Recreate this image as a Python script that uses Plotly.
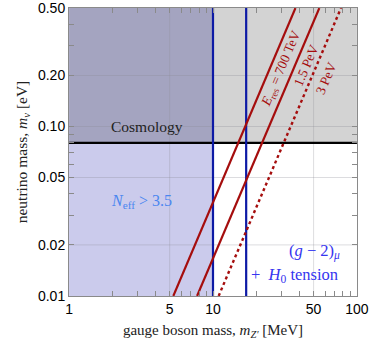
import numpy as np
import plotly.graph_objects as go

# boundaries
nu_mass_cosmo = 0.08        # eV, cosmology bound
mz_neff = 10.0              # MeV, N_eff > 3.5 region ends here
mz_g2_lines = [10.0, 17.0]  # MeV, (g-2)_mu + H0 band edges

# resonance lines (endpoints)
res_700tev_x = [5.3, 37.4]
res_700tev_y = [0.01, 0.5]
res_1p5pev_x = [7.75, 54.8]
res_1p5pev_y = [0.01, 0.5]
res_3pev_x = [10.95, 77.5]
res_3pev_y = [0.01, 0.5]

x_ticks = [1, 5, 10, 50, 100]
x_ticklabels = ["1", "5", "10", "50", "100"]
y_ticks = [0.01, 0.02, 0.05, 0.1, 0.2, 0.5]
y_ticklabels = ["0.01", "0.02", "0.05", "0.10", "0.20", "0.50"]
x_minor = [2, 3, 4, 6, 7, 8, 9, 20, 30, 40, 60, 70, 80, 90]
y_minor = [0.03, 0.04, 0.06, 0.07, 0.08, 0.09, 0.3, 0.4]

x_min, x_max = 1, 100
y_min, y_max = 0.01, 0.5
eps = 0.0005  # keeps the edge tick labels inside the range

red = "#a50d0d"
blue = "#0d1aa5"
serif = "Liberation Serif, Times New Roman, serif"
sans = "Liberation Sans, Arial, sans-serif"

fig = go.Figure()

# shaded regions
shapes = [
    dict(type="rect", x0=x_min, x1=mz_neff, y0=y_min, y1=nu_mass_cosmo,
         fillcolor="#cbcbec", line_width=0, layer="below"),
    dict(type="rect", x0=x_min, x1=mz_neff, y0=nu_mass_cosmo, y1=y_max,
         fillcolor="#a4a4c0", line_width=0, layer="below"),
    dict(type="rect", x0=mz_neff, x1=x_max, y0=nu_mass_cosmo, y1=y_max,
         fillcolor="#d3d3d3", line_width=0, layer="below"),
]
grid_col = "rgba(140,140,150,0.3)"
for gx in [5, 10, 50]:
    shapes.append(dict(type="line", x0=gx, x1=gx, y0=y_min, y1=y_max,
                       line=dict(color=grid_col, width=1), layer="below"))
for gy in [0.02, 0.05, 0.1, 0.2]:
    shapes.append(dict(type="line", x0=x_min, x1=x_max, y0=gy, y1=gy,
                       line=dict(color=grid_col, width=1), layer="below"))
fig.update_layout(shapes=shapes)

# cosmology bound
fig.add_trace(go.Scatter(x=[x_min, x_max], y=[nu_mass_cosmo, nu_mass_cosmo],
                         mode="lines", line=dict(color="black", width=2.2)))
# (g-2) band edges
for mz in mz_g2_lines:
    fig.add_trace(go.Scatter(x=[mz, mz], y=[y_min, y_max], mode="lines",
                             line=dict(color=blue, width=2.2)))
# resonance lines
fig.add_trace(go.Scatter(x=res_700tev_x, y=res_700tev_y, mode="lines",
                         line=dict(color=red, width=2.2)))
fig.add_trace(go.Scatter(x=res_1p5pev_x, y=res_1p5pev_y, mode="lines",
                         line=dict(color=red, width=2.2)))
fig.add_trace(go.Scatter(x=res_3pev_x, y=res_3pev_y, mode="lines",
                         line=dict(color=red, width=2.4, dash="3px,3px")))

def ann(text, x, y, color, size=14, angle=0):
    fig.add_annotation(text=text, x=np.log10(x), y=np.log10(y), showarrow=False,
                       textangle=angle, font=dict(family=serif, size=size, color=color))

ann("Cosmology", 3.5, 0.1, "#222222", 15.5)
ann("<i>N</i><sub>eff</sub> > 3.5", 3.2, 0.036, "#4a86f0", 16)
ann("(<i>g</i> − 2)<sub><i>μ</i></sub>", 51, 0.0184, "#3535f0", 16.5)
ann("+  <i>H</i><sub>0</sub> tension", 37, 0.0132, "#3535f0", 16.5)
ann("<i>E</i><sub>res</sub> = 700 TeV", 29.7, 0.218, red, 13.5, -67)
ann("1.5 PeV", 44.2, 0.23, red, 13.5, -67)
ann("3 PeV", 60.9, 0.193, red, 13.5, -67)

axis_common = dict(type="log", showgrid=False, zeroline=False, showline=True,
                   linecolor="#8a8a8a", linewidth=1, mirror="ticks",
                   ticks="inside", ticklen=5, tickcolor="#8a8a8a", automargin=False,
                   ticklabeloverflow="allow",
                   tickfont=dict(family=sans, size=14, color="black"))

fig.update_xaxes(**axis_common, range=[np.log10(x_min) - eps, np.log10(x_max) + eps],
                 tickvals=x_ticks + x_minor,
                 ticktext=x_ticklabels + [""] * len(x_minor),
                 title=dict(text="gauge boson mass, <i>m</i><sub><i>Z'</i></sub> [MeV]",
                            font=dict(family=serif, size=15, color="#222"), standoff=8))
fig.update_yaxes(**axis_common, range=[np.log10(y_min) - eps, np.log10(y_max) + eps],
                 tickvals=y_ticks + y_minor,
                 ticktext=y_ticklabels + [""] * len(y_minor),
                 title=dict(text="neutrino mass, <i>m</i><sub><i>ν</i></sub> [eV]",
                            font=dict(family=serif, size=15.5, color="#222"), standoff=6))

fig.update_layout(width=374, height=352, showlegend=False,
                  margin=dict(l=69, r=17, t=8, b=56),
                  plot_bgcolor="white", paper_bgcolor="white")

# the page's default body margin would shift the figure by 8px
fig.write_html("out.html", config={"displayModeBar": False},
               post_script="document.body.style.margin='0';")
